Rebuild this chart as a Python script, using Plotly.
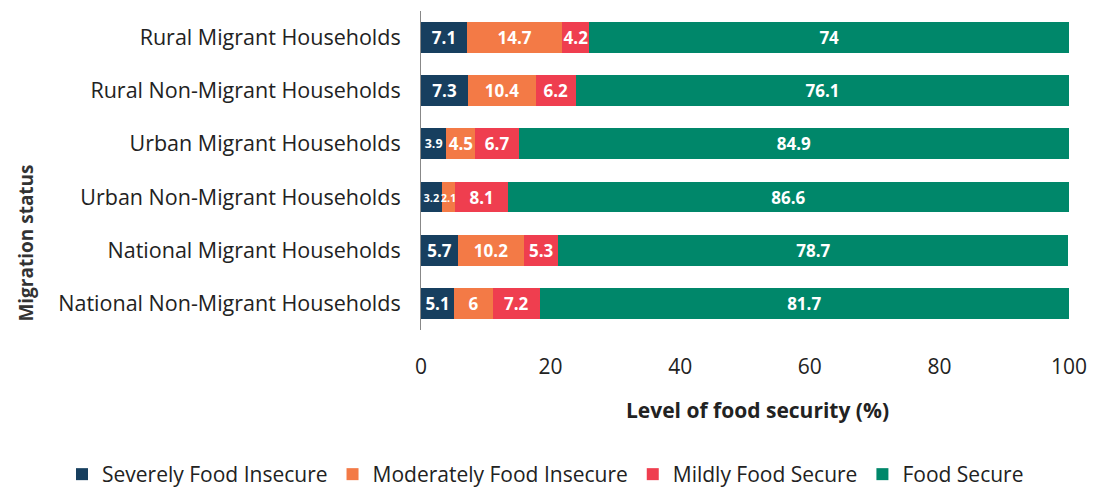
import plotly.graph_objects as go

categories = [
    "Rural Migrant Households",
    "Rural Non-Migrant Households",
    "Urban Migrant Households",
    "Urban Non-Migrant Households",
    "National Migrant Households",
    "National Non-Migrant Households",
]
severely = [7.1, 7.3, 3.9, 3.2, 5.7, 5.1]
moderately = [14.7, 10.4, 4.5, 2.1, 10.2, 6]
mildly = [4.2, 6.2, 6.7, 8.1, 5.3, 7.2]
secure = [74, 76.1, 84.9, 86.6, 78.7, 81.7]

series = [
    ("Severely Food Insecure", severely, "#173f5f"),
    ("Moderately Food Insecure", moderately, "#f37a46"),
    ("Mildly Food Secure", mildly, "#ef3e4f"),
    ("Food Secure", secure, "#00876a"),
]


def label_size(v):
    # thin segments get a smaller label, as in the original
    if v >= 4:
        return 17
    if v >= 3.5:
        return 12.5
    return 11


fig = go.Figure()
for name, vals, color in series:
    fig.add_trace(go.Bar(
        y=categories, x=vals, name=name, orientation="h",
        marker=dict(color=color, line=dict(width=0)),
        text=[f"{v:g}" for v in vals],
        textposition="inside", insidetextanchor="middle",
        constraintext="none",
        textfont=dict(family="Open Sans", size=[label_size(v) for v in vals],
                      color="white", weight="bold"),
        textangle=0,
    ))

# t=0 keeps plotly's auto-margin padding at zero so the legend can sit low;
# the small gap at the top comes from the y-axis domain instead
fig.update_layout(
    barmode="stack",
    bargap=0.42,
    width=1094, height=495,
    paper_bgcolor="white", plot_bgcolor="white",
    margin=dict(l=421, r=25, t=0, b=165),
    font=dict(family="Open Sans", size=21, color="#222222"),
    showlegend=True,
    legend=dict(
        orientation="h", xref="paper", x=-0.554, xanchor="left",
        yref="paper", y=-0.5, yanchor="bottom",
        font=dict(size=21, color="#222222"),
        traceorder="normal",
    ),
    annotations=[
        dict(text="<b>Level of food security (%)</b>", xref="paper", yref="paper",
             x=0.519, y=-0.242, xanchor="center", yanchor="middle",
             showarrow=False, font=dict(size=21, color="#222222")),
        dict(text="<b>Migration status</b>", xref="paper", yref="paper",
             x=-0.61, y=0.264, xanchor="center", yanchor="middle", textangle=-90,
             showarrow=False, font=dict(size=19, color="#333333")),
    ],
)
fig.update_xaxes(
    range=[0, 100], tickvals=[0, 20, 40, 60, 80, 100],
    showgrid=False, zeroline=False, showline=False,
    ticks="", ticklabelstandoff=22, tickfont=dict(size=21),
    ticklabeloverflow="allow", automargin=False,
)
fig.update_yaxes(
    domain=[0, 0.9667],
    autorange="reversed", showgrid=False, zeroline=False,
    showline=True, linecolor="#888888", linewidth=1,
    ticks="", ticklabelstandoff=15, tickfont=dict(size=21.5),
    automargin=False,
)

# drop the browser's default 8px body margin so the figure fills the window
fig.write_html(
    "out.html",
    config={"displayModeBar": False},
    post_script="document.body.style.margin = '0';",
)
